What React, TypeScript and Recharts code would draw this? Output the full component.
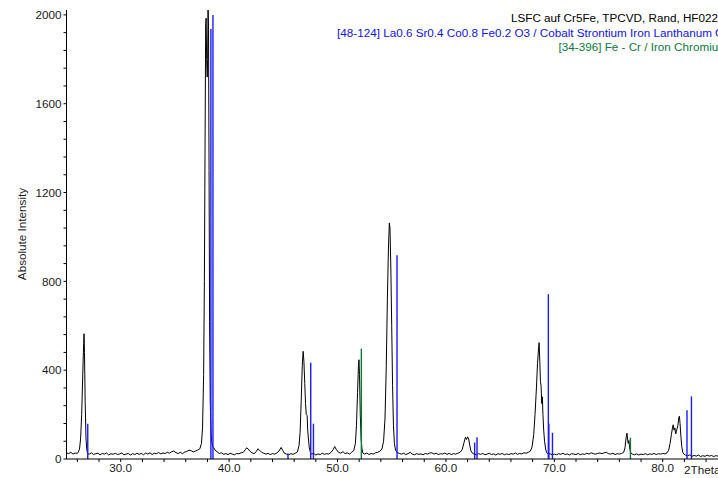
import { LineChart, Line, XAxis, YAxis, ReferenceLine } from "recharts";

// measured scan: [2theta, counts]
const scan: [number, number][] = [
  [25.0, 28], [25.2, 24], [25.4, 30], [25.6, 22], [25.8, 27], [26.0, 25], [26.1, 32], [26.2, 45],
  [26.3, 90], [26.4, 200], [26.5, 380], [26.58, 520], [26.62, 564], [26.66, 480], [26.72, 260],
  [26.8, 90], [26.88, 40], [26.95, 24], [27.1, 22], [27.3, 28], [27.5, 20], [27.7, 24], [27.9, 26],
  [28.1, 19], [28.3, 25], [28.5, 22], [28.7, 27], [28.9, 18], [29.1, 24], [29.3, 21], [29.5, 26],
  [29.7, 20], [29.9, 23], [30.1, 27], [30.3, 19], [30.5, 22], [30.7, 25], [30.9, 18], [31.1, 24],
  [31.3, 20], [31.5, 26], [31.7, 21], [31.9, 25], [32.1, 19], [32.3, 27], [32.5, 22], [32.7, 28],
  [32.9, 20], [33.1, 26], [33.3, 24], [33.5, 29], [33.7, 23], [33.9, 27], [34.1, 25], [34.3, 30],
  [34.5, 26], [34.7, 33], [34.9, 36], [35.1, 28], [35.3, 25], [35.5, 30], [35.7, 24], [35.9, 31],
  [36.1, 34], [36.3, 40], [36.5, 37], [36.7, 32], [36.9, 36], [37.1, 40], [37.3, 46], [37.45, 70],
  [37.55, 140], [37.65, 380], [37.72, 800], [37.78, 1400], [37.84, 1960], [37.88, 1985], [37.93, 1800],
  [37.98, 1720], [38.02, 1800], [38.06, 2022], [38.1, 1950], [38.15, 1300], [38.2, 620], [38.26, 260],
  [38.33, 120], [38.4, 75], [38.5, 55], [38.6, 50], [38.7, 40], [38.9, 32], [39.1, 25], [39.3, 28],
  [39.5, 21], [39.7, 24], [39.9, 20], [40.1, 26], [40.3, 22], [40.5, 19], [40.7, 25], [40.9, 23],
  [41.1, 28], [41.3, 30], [41.5, 42], [41.6, 50], [41.75, 46], [41.9, 36], [42.1, 28], [42.3, 24],
  [42.5, 33], [42.65, 46], [42.8, 40], [43.0, 30], [43.2, 26], [43.4, 22], [43.6, 25], [43.8, 20],
  [44.0, 24], [44.2, 22], [44.4, 27], [44.6, 36], [44.8, 52], [44.95, 38], [45.1, 26], [45.3, 22],
  [45.5, 19], [45.7, 24], [45.9, 21], [46.1, 26], [46.3, 32], [46.45, 60], [46.55, 120], [46.65, 260],
  [46.75, 420], [46.83, 485], [46.9, 440], [46.98, 340], [47.05, 250], [47.12, 200], [47.2, 195],
  [47.25, 130], [47.32, 90], [47.4, 50], [47.5, 30], [47.6, 22], [47.8, 25], [48.0, 18], [48.2, 23],
  [48.4, 20], [48.6, 26], [48.8, 21], [49.0, 24], [49.2, 22], [49.4, 30], [49.6, 42], [49.74, 56],
  [49.9, 42], [50.1, 30], [50.3, 26], [50.5, 33], [50.7, 24], [50.9, 28], [51.1, 22], [51.3, 30],
  [51.5, 38], [51.65, 70], [51.75, 150], [51.85, 300], [51.93, 420], [51.98, 447], [52.03, 380],
  [52.1, 200], [52.18, 90], [52.26, 45], [52.35, 26], [52.5, 22], [52.7, 27], [52.9, 20], [53.1, 25],
  [53.3, 22], [53.5, 28], [53.7, 30], [53.9, 35], [54.1, 45], [54.25, 80], [54.38, 180], [54.5, 420],
  [54.6, 720], [54.7, 950], [54.78, 1063], [54.84, 1040], [54.92, 860], [55.0, 600], [55.08, 330],
  [55.16, 150], [55.25, 70], [55.35, 40], [55.5, 30], [55.7, 25], [55.9, 22], [56.1, 26], [56.3, 20],
  [56.5, 24], [56.7, 30], [56.9, 22], [57.1, 19], [57.3, 24], [57.5, 21], [57.7, 23], [57.9, 19],
  [58.1, 25], [58.3, 22], [58.5, 27], [58.7, 28], [58.9, 22], [59.1, 26], [59.3, 20], [59.5, 24],
  [59.7, 22], [59.9, 27], [60.1, 21], [60.3, 25], [60.5, 20], [60.7, 24], [60.9, 22], [61.1, 26],
  [61.3, 30], [61.5, 42], [61.65, 70], [61.8, 98], [61.9, 88], [62.0, 100], [62.1, 90], [62.2, 62],
  [62.3, 38], [62.45, 26], [62.6, 22], [62.8, 19], [63.0, 24], [63.2, 21], [63.4, 25], [63.6, 19],
  [63.8, 22], [64.0, 26], [64.2, 20], [64.4, 23], [64.6, 18], [64.8, 24], [65.0, 21], [65.2, 25],
  [65.4, 19], [65.6, 23], [65.8, 20], [66.0, 24], [66.2, 22], [66.4, 27], [66.6, 21], [66.8, 25],
  [67.0, 23], [67.2, 28], [67.4, 26], [67.6, 30], [67.8, 36], [67.95, 55], [68.1, 110], [68.22, 200],
  [68.35, 320], [68.45, 430], [68.55, 500], [68.6, 524], [68.66, 440], [68.72, 350], [68.78, 330],
  [68.84, 250], [68.9, 280], [68.95, 200], [69.02, 130], [69.1, 80], [69.2, 45], [69.3, 28], [69.45, 20],
  [69.6, 24], [69.8, 18], [70.0, 22], [70.2, 19], [70.4, 24], [70.6, 21], [70.8, 26], [71.0, 20],
  [71.2, 23], [71.4, 18], [71.6, 24], [71.8, 22], [72.0, 20], [72.2, 25], [72.4, 19], [72.6, 23],
  [72.8, 21], [73.0, 26], [73.2, 22], [73.4, 28], [73.6, 24], [73.8, 22], [74.0, 25], [74.2, 27],
  [74.4, 24], [74.6, 28], [74.8, 30], [75.0, 24], [75.2, 22], [75.4, 26], [75.6, 20], [75.8, 24],
  [76.0, 22], [76.2, 25], [76.4, 30], [76.52, 50], [76.62, 95], [76.7, 116], [76.76, 90], [76.82, 70],
  [76.88, 83], [76.95, 50], [77.05, 28], [77.2, 22], [77.4, 19], [77.6, 23], [77.8, 18], [78.0, 22],
  [78.2, 20], [78.4, 24], [78.6, 19], [78.8, 23], [79.0, 21], [79.2, 25], [79.4, 20], [79.6, 24],
  [79.8, 22], [80.0, 25], [80.2, 23], [80.4, 28], [80.55, 40], [80.68, 70], [80.8, 110], [80.9, 140],
  [80.96, 154], [81.05, 130], [81.12, 140], [81.2, 113], [81.27, 125], [81.32, 136], [81.4, 150],
  [81.48, 185], [81.54, 193], [81.6, 160], [81.68, 100], [81.76, 55], [81.85, 30], [81.95, 22],
  [82.1, 18], [82.3, 14], [82.5, 19], [82.7, 12], [82.9, 16], [83.1, 13], [83.3, 18], [83.5, 11],
  [83.7, 15], [83.9, 12], [84.1, 17], [84.3, 13], [84.5, 16], [84.7, 11], [84.9, 15], [85.1, 13],
  [85.3, 14],
];

// reference patterns: [2theta, relative height in counts]
const lsfcSticks: [number, number][] = [
  [26.96, 159], [38.32, 1936], [38.51, 2000], [45.43, 25], [47.53, 434], [47.78, 159],
  [55.49, 917], [62.65, 74], [62.87, 98], [69.45, 742], [69.5, 159], [69.83, 118],
  [82.24, 219], [82.65, 282],
];
const feCrSticks: [number, number][] = [
  [52.2, 497], [77.02, 96],
];

const xTicks = [26, 28, 30, 32, 34, 36, 38, 40, 42, 44, 46, 48, 50, 52, 54, 56, 58, 60, 62, 64, 66, 68, 70, 72, 74, 76, 78, 80, 82, 84];
const yTicks = [0, 80, 160, 240, 320, 400, 480, 560, 640, 720, 800, 880, 960, 1040, 1120, 1200, 1280, 1360, 1440, 1520, 1600, 1680, 1760, 1840, 1920, 2000];

const titleLines = [
  { text: "LSFC auf Cr5Fe, TPCVD, Rand, HF0224", color: "#000000", x: 511, y: 21.5 },
  { text: "[48-124] La0.6 Sr0.4 Co0.8 Fe0.2 O3 / Cobalt Strontium Iron Lanthanum Oxide", color: "#1010ff", x: 337, y: 36.5 },
  { text: "[34-396] Fe - Cr / Iron Chromium", color: "#0a7a3a", x: 558.5, y: 51 },
];

const FONT = "'Liberation Sans', Arial, sans-serif";
const FS = 11.7;

export default function App() {
  const data = scan.map(([x, y]) => ({ x, y }));
  const tickStyle = { fontSize: FS, fill: "#1a1a1a", fontFamily: FONT };

  return (
    <div style={{ position: "fixed", left: 0, top: 0, width: 718, height: 478, overflow: "hidden", background: "#fff" }}>
      <LineChart width={718} height={478} data={data} margin={{ top: 10, right: 0, left: 6.5, bottom: 0 }}>
        <XAxis
          dataKey="x"
          type="number"
          domain={[25, 85.1]}
          allowDataOverflow
          ticks={xTicks}
          interval={0}
          tickFormatter={(v: number) => (v % 10 === 0 ? v.toFixed(1) : "")}
          tick={tickStyle}
          tickSize={3}
          tickMargin={2}
          height={19}
          stroke="#000"
        />
        <YAxis
          type="number"
          domain={[0, 2022]}
          allowDataOverflow
          ticks={yTicks}
          interval={0}
          tickFormatter={(v: number) => (v % 400 === 0 ? String(v) : "")}
          tick={tickStyle}
          tickSize={3}
          tickMargin={2}
          width={60}
          stroke="#000"
        />
        <Line type="linear" dataKey="y" stroke="#000" strokeWidth={1} dot={false} isAnimationActive={false} />
        {lsfcSticks.map(([x, h], i) => (
          <ReferenceLine key={"b" + i} segment={[{ x, y: 0 }, { x, y: h }]} stroke="#1a1aff" strokeWidth={1.4} ifOverflow="visible" />
        ))}
        {feCrSticks.map(([x, h], i) => (
          <ReferenceLine key={"g" + i} segment={[{ x, y: 0 }, { x, y: h }]} stroke="#0a7a3a" strokeWidth={1.4} ifOverflow="visible" />
        ))}
      </LineChart>
      <svg width={718} height={478} style={{ position: "absolute", left: 0, top: 0, pointerEvents: "none" }}>
        {titleLines.map((t) => (
          <text key={t.text} x={t.x} y={t.y} fill={t.color} fontSize={FS} fontFamily={FONT}>
            {t.text}
          </text>
        ))}
        <text x={684} y={474} fontSize={FS} fill="#1a1a1a" fontFamily={FONT}>2Theta</text>
        <text x={26} y={234} fontSize={FS} fill="#1a1a1a" fontFamily={FONT} textAnchor="middle" transform="rotate(-90 26 234)">
          Absolute Intensity
        </text>
      </svg>
    </div>
  );
}
